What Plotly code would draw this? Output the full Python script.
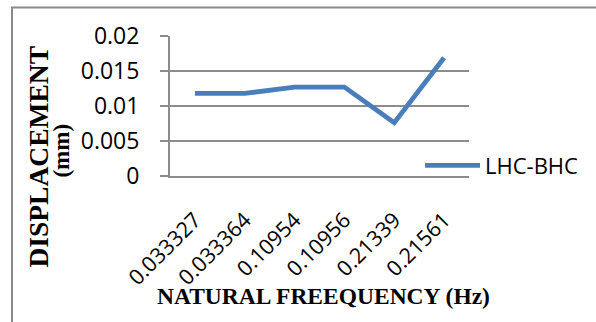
import plotly.graph_objects as go

# Natural frequencies (Hz) used as category labels, and peak displacement (mm)
frequencies = ["0.033327", "0.033364", "0.10954", "0.10956", "0.21339", "0.21561"]
displacement = [0.0118, 0.0118, 0.0127, 0.0127, 0.0076, 0.0169]
series_name = "LHC-BHC"
y_ticks = [0, 0.005, 0.01, 0.015, 0.02]
y_tick_labels = ["0", "0.005", "0.01", "0.015", "0.02"]

W, H = 596, 322
M_L, M_R, M_T, M_B = 170, 127, 36, 145.5
plot_w = W - M_L - M_R
plot_h = H - M_T - M_B


def px_to_paper_x(px):
    return (px - M_L) / plot_w


def px_to_paper_y(py):
    return (H - M_B - py) / plot_h


GRID = "#8c8c8c"
LINE_BLUE = "#4a7ebb"
TITLE_FONT = "Liberation Serif"

fig = go.Figure()
fig.add_trace(go.Scatter(
    x=frequencies,
    y=displacement,
    mode="lines",
    name=series_name,
    line=dict(color=LINE_BLUE, width=4.8),
    showlegend=True,
))

fig.update_layout(
    width=W,
    height=H,
    margin=dict(l=M_L, r=M_R, t=M_T, b=M_B, pad=0),
    paper_bgcolor="#ffffff",
    plot_bgcolor="#ffffff",
    showlegend=True,
    legend=dict(
        x=px_to_paper_x(420),
        y=px_to_paper_y(166),
        xanchor="left",
        yanchor="middle",
        bgcolor="rgba(0,0,0,0)",
        font=dict(family="Open Sans", size=22, color="#000000"),
        itemwidth=55,
        borderwidth=0,
    ),
    xaxis=dict(
        type="category",
        range=[-0.5, len(frequencies) - 0.5],
        showgrid=False,
        showline=True,
        linecolor=GRID,
        linewidth=2,
        ticks="",
        tickangle=-45,
        tickfont=dict(family="Open Sans", size=21.5, color="#000000"),
        ticklabelstandoff=21,
        zeroline=False,
    ),
    yaxis=dict(
        range=[0, 0.02],
        tickvals=y_ticks,
        ticktext=y_tick_labels,
        showgrid=True,
        gridcolor=GRID,
        gridwidth=1.5,
        showline=True,
        linecolor=GRID,
        linewidth=2,
        ticks="outside",
        ticklen=8,
        tickwidth=1.5,
        tickcolor=GRID,
        tickfont=dict(family="Open Sans", size=23, color="#000000"),
        ticklabelstandoff=16,
        zeroline=False,
    ),
    annotations=[
        dict(
            text="<b>DISPLACEMENT</b>",
            textangle=-90,
            x=px_to_paper_x(39), y=px_to_paper_y(157),
            xref="paper", yref="paper",
            xanchor="center", yanchor="middle",
            showarrow=False,
            font=dict(family=TITLE_FONT, size=27.5, color="#000000"),
        ),
        dict(
            text="<b>(mm)</b>",
            textangle=-90,
            x=px_to_paper_x(62), y=px_to_paper_y(151),
            xref="paper", yref="paper",
            xanchor="center", yanchor="middle",
            showarrow=False,
            font=dict(family=TITLE_FONT, size=23, color="#000000"),
        ),
        dict(
            text="<b>NATURAL FREEQUENCY (Hz)</b>",
            x=px_to_paper_x(323), y=px_to_paper_y(297),
            xref="paper", yref="paper",
            xanchor="center", yanchor="middle",
            showarrow=False,
            font=dict(family=TITLE_FONT, size=23.5, color="#000000"),
        ),
    ],
    shapes=[
        # outer chart frame, running off the right and bottom edges
        dict(
            type="rect",
            xref="paper", yref="paper",
            x0=px_to_paper_x(12), x1=px_to_paper_x(605),
            y0=px_to_paper_y(330), y1=px_to_paper_y(7.5),
            line=dict(color="#8a8a8a", width=2),
            fillcolor="rgba(0,0,0,0)",
            layer="below",
        ),
    ],
)

fig.write_html("out.html")
